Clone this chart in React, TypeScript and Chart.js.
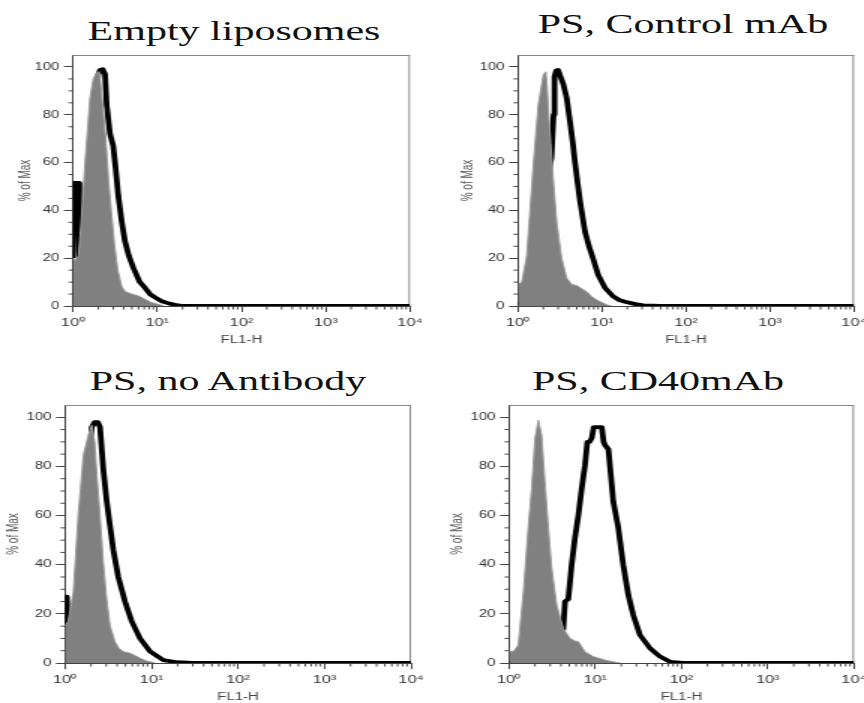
import React, { useEffect, useRef } from 'react';
import { Chart, registerables } from 'chart.js';

Chart.register(...registerables);
Chart.defaults.font.family = "'Liberation Sans', Arial, sans-serif";

// ---- axis ticks ----
const X_TICKS = [1, 10, 100, 1000, 10000];
const X_TICK_LABELS = ['10⁰', '10¹', '10²', '10³', '10⁴'];
const X_MINOR_MULTIPLIERS = [2, 3, 4, 5, 6, 7, 8, 9];
const X_MINOR_DECADES = [1, 10, 100, 1000];
const Y_TICKS = [0, 20, 40, 60, 80, 100];
const Y_MINOR = [5, 10, 15, 25, 30, 35, 45, 50, 55, 65, 70, 75, 85, 90, 95];
const Y_MAX = 105;
const X_TITLE = 'FL1-H';
const Y_TITLE = '% of Max';

const TITLES = ['Empty liposomes', 'PS, Control mAb', 'PS, no Antibody', 'PS, CD40mAb'];

// ---- panel 1: Empty liposomes ----
const P1_GRAY_X = [1.0, 1.06, 1.16, 1.25, 1.39, 1.59, 1.74, 1.9, 2.05, 2.2, 2.45, 2.65, 2.85, 3.1, 3.4, 3.8, 4.2, 5.0, 6.0, 7.0, 8.5, 10, 12];
const P1_GRAY_Y = [20, 19, 21, 35, 60, 87, 95, 97.5, 98, 88, 70, 52, 40, 26, 15, 8, 6, 5, 4.2, 3, 1.5, 0.8, 0];
const P1_BLACK_X = [1.0, 1.03, 1.16, 1.19, 1.4, 1.6, 1.8, 2.0, 2.1, 2.25, 2.4, 2.51, 2.75, 3.0, 3.2, 3.45, 3.8, 4.14, 4.6, 5.2, 6.2, 7.2, 8.2, 9.5, 11.3, 14, 16.2, 20, 40, 100, 1000, 10000];
const P1_BLACK_Y = [20, 51.5, 51.5, 20, 35, 60, 85, 97, 98.7, 99, 97, 84, 72, 67, 58, 46, 35, 27, 21, 16, 10, 7.5, 5, 3.5, 2, 1, 0.5, 0, 0, 0, 0, 0];

// ---- panel 2: PS, Control mAb ----
const P2_GRAY_X = [1.0, 1.11, 1.27, 1.52, 1.74, 2.0, 2.14, 2.22, 2.3, 2.45, 2.63, 2.89, 3.31, 3.8, 4.36, 5.0, 5.6, 6.58, 7.5, 8.65, 10, 11.4, 13];
const P2_GRAY_Y = [9, 10, 21, 59, 84, 96.6, 98, 92, 82, 68, 53, 35, 20, 11.7, 9, 8.6, 7.5, 6, 4, 2.5, 1.5, 0.5, 0];
const P2_BLACK_X = [1.0, 1.3, 1.6, 2.0, 2.3, 2.5, 2.65, 2.72, 2.85, 3.0, 3.2, 3.45, 3.8, 4.16, 4.5, 4.77, 5.1, 5.47, 6.28, 7.0, 7.8, 9.0, 10.9, 13.6, 16, 18.8, 25, 31, 50, 100, 1000, 10000];
const P2_BLACK_Y = [0.5, 3, 10, 35, 55, 62, 80, 96, 98.5, 98.7, 96, 93, 87, 77, 68, 60, 52, 44, 31, 25, 20, 13, 7.5, 4, 2.5, 1.8, 0.8, 0.3, 0, 0, 0, 0];

// ---- panel 3: PS, no Antibody ----
const P3_GRAY_X = [1.0, 1.09, 1.25, 1.42, 1.63, 1.86, 2.04, 2.2, 2.32, 2.54, 2.77, 3.03, 3.31, 3.78, 4.2, 4.72, 5.64, 6.5, 7.36, 8.5, 9.6, 11];
const P3_GRAY_Y = [15, 17, 29, 60, 84.5, 92.7, 96.7, 90, 77.8, 60, 41, 26, 15.4, 8.7, 6, 4.6, 4, 3, 2, 1, 0.5, 0];
const P3_BLACK_X = [1.0, 1.05, 1.08, 1.3, 1.6, 1.85, 2.04, 2.2, 2.4, 2.54, 2.66, 2.77, 3.03, 3.31, 3.62, 4.13, 4.94, 5.9, 7.36, 9.6, 13.7, 19.6, 30, 100, 1000, 10000];
const P3_BLACK_Y = [27, 27, 15, 12, 40, 75, 96, 98, 98, 96, 87, 79, 66, 56, 46, 35, 25, 17, 10, 4.7, 1.2, 0.3, 0, 0, 0, 0];

// ---- panel 4: PS, CD40mAb ----
const P4_GRAY_X = [1.0, 1.07, 1.15, 1.28, 1.47, 1.67, 1.83, 2.0, 2.19, 2.39, 2.61, 2.86, 3.13, 3.57, 4.26, 5.1, 5.8, 6.36, 7.6, 9.49, 13.6, 19.4];
const P4_GRAY_Y = [5, 4.6, 5, 7.3, 29, 55, 71, 91.5, 98.8, 92.7, 73.7, 55, 38.6, 23.6, 14, 10, 9, 8.7, 4.6, 2.6, 1, 0];
const P4_BLACK_X = [1.0, 2.0, 3.0, 3.5, 4.0, 4.26, 4.46, 4.87, 5.33, 5.82, 6.36, 6.96, 7.6, 8.09, 8.6, 9.1, 9.6, 10.4, 11.9, 12.5, 13.0, 14.2, 16.2, 18.5, 21.1, 24.2, 27.6, 33.0, 43.1, 56.3, 73.6, 104, 1000, 10000];
const P4_BLACK_Y = [0, 1, 3, 6, 10, 14, 25, 26, 40, 51, 60, 71, 80.5, 90, 90, 91.5, 96, 96, 96, 90, 88.6, 87, 65.6, 55, 40, 27.6, 19.5, 11.4, 6, 2.6, 0.5, 0, 0, 0];

const GRAY_FILL = '#808080';
const STRETCH = 1.5;

type Layout = {
  left: number; top: number; width: number; height: number;
  plotLeft: number; plotRight: number; plotTop: number; plotBottom: number;
  yTitleX: number; titleX: number; titleTop: number;
};

const LAYOUTS: Layout[] = [
  { left: 0, top: 50, width: 432, height: 300, plotLeft: 73, plotRight: 410, plotTop: 55, plotBottom: 306, yTitleX: 26, titleX: 234, titleTop: 16.5 },
  { left: 432, top: 50, width: 432, height: 300, plotLeft: 518, plotRight: 854, plotTop: 55, plotBottom: 306, yTitleX: 469, titleX: 682.5, titleTop: 10 },
  { left: 0, top: 400, width: 432, height: 303, plotLeft: 65, plotRight: 411, plotTop: 405, plotBottom: 663, yTitleX: 14, titleX: 227.5, titleTop: 367 },
  { left: 432, top: 400, width: 432, height: 303, plotLeft: 509, plotRight: 854, plotTop: 405, plotBottom: 663, yTitleX: 457.5, titleX: 658.3, titleTop: 366.5 },
];

const SERIES = [
  { gx: P1_GRAY_X, gy: P1_GRAY_Y, bx: P1_BLACK_X, by: P1_BLACK_Y },
  { gx: P2_GRAY_X, gy: P2_GRAY_Y, bx: P2_BLACK_X, by: P2_BLACK_Y },
  { gx: P3_GRAY_X, gy: P3_GRAY_Y, bx: P3_BLACK_X, by: P3_BLACK_Y },
  { gx: P4_GRAY_X, gy: P4_GRAY_Y, bx: P4_BLACK_X, by: P4_BLACK_Y },
];

const zip = (xs: number[], ys: number[]) => xs.map((x, i) => ({ x, y: ys[i] }));

const framePlugin = {
  id: 'frameAndMinorTicks',
  beforeDatasetsDraw(chart: any) {
    const { ctx, chartArea: a, scales } = chart;
    ctx.save();
    ctx.strokeStyle = '#8a8a8a';
    ctx.lineWidth = 1;
    ctx.beginPath();
    ctx.moveTo(a.left, a.top + 0.5);
    ctx.lineTo(a.right, a.top + 0.5);
    ctx.moveTo(a.right - 0.5, a.top);
    ctx.lineTo(a.right - 0.5, a.bottom);
    ctx.stroke();
    ctx.strokeStyle = '#444';
    ctx.beginPath();
    for (const d of X_MINOR_DECADES) {
      for (const m of X_MINOR_MULTIPLIERS) {
        const px = scales.x.getPixelForValue(d * m);
        ctx.moveTo(px, a.bottom);
        ctx.lineTo(px, a.bottom + 3.5);
      }
    }
    for (const v of Y_MINOR) {
      const py = scales.y.getPixelForValue(v);
      ctx.moveTo(a.left, py);
      ctx.lineTo(a.left - 3, py);
    }
    ctx.stroke();
    ctx.restore();
  },
};

function Panel({ idx }: { idx: number }) {
  const ref = useRef<HTMLCanvasElement | null>(null);
  const L = LAYOUTS[idx];
  const cw = L.width / STRETCH;
  useEffect(() => {
    if (!ref.current) return;
    const s = SERIES[idx];
    const yAxisW = (L.plotLeft - L.left) / STRETCH;
    const padR = cw - (L.plotRight - L.left) / STRETCH;
    const padT = L.plotTop - L.top;
    const xAxisH = L.height - (L.plotBottom - L.top);
    const xTitleCenter = L.plotBottom + 34 - L.top;
    const xTitlePad = Math.max(0, L.height - 5 - xTitleCenter);
    const yTitlePad = (L.yTitleX - L.left) / STRETCH - 5;
    const chart = new Chart(ref.current, {
      type: 'line',
      data: {
        datasets: [
          {
            data: zip(s.gx, s.gy),
            fill: 'origin',
            backgroundColor: GRAY_FILL,
            borderColor: '#9c9c9c',
            borderWidth: 1,
            pointRadius: 0,
            tension: 0,
          },
          {
            data: zip(s.bx, s.by),
            fill: false,
            borderColor: '#000',
            borderWidth: 3.8,
            pointRadius: 0,
            tension: 0,
            borderJoinStyle: 'round',
          },
        ],
      } as any,
      options: {
        animation: false,
        responsive: true,
        maintainAspectRatio: false,
        events: [],
        layout: { padding: { left: 0, right: padR, top: padT, bottom: 0 } },
        plugins: { legend: { display: false }, tooltip: { enabled: false }, title: { display: false } },
        scales: {
          x: {
            type: 'logarithmic',
            min: 1,
            max: 10000,
            afterBuildTicks: (sc: any) => { sc.ticks = X_TICKS.map((v) => ({ value: v })); },
            afterFit: (sc: any) => { sc.height = xAxisH; sc.paddingLeft = 0; sc.paddingRight = 0; },
            ticks: {
              autoSkip: false,
              maxRotation: 0,
              padding: 4,
              color: '#333',
              font: { size: 11 },
              callback: (_v: any, i: number) => X_TICK_LABELS[i],
            },
            grid: { drawOnChartArea: false, tickLength: 6, color: '#444' },
            border: { color: '#444', width: 1 },
            title: { display: true, text: X_TITLE, color: '#444', font: { size: 10, lineHeight: 1 }, padding: { top: 0, bottom: xTitlePad } },
          },
          y: {
            min: 0,
            max: Y_MAX,
            afterBuildTicks: (sc: any) => { sc.ticks = Y_TICKS.map((v) => ({ value: v })); },
            afterFit: (sc: any) => { sc.width = yAxisW; sc.paddingTop = 0; sc.paddingBottom = 0; },
            ticks: { padding: 3, color: '#333', font: { size: 10 }, callback: (v: any) => String(v) },
            grid: { drawOnChartArea: false, tickLength: 6, color: '#444' },
            border: { color: '#444', width: 1 },
            title: { display: true, text: Y_TITLE, color: '#555', font: { size: 10, lineHeight: 1 }, padding: { top: yTitlePad, bottom: 0 } },
          },
        },
      } as any,
      plugins: [framePlugin],
    });
    return () => chart.destroy();
  }, [idx]);

  return (
    <>
      <div
        style={{
          position: 'absolute', left: L.left, top: L.top, width: cw, height: L.height,
          transform: `scaleX(${STRETCH})`, transformOrigin: '0 0',
        }}
      >
        <canvas ref={ref} />
      </div>
      <div
        style={{
          position: 'absolute', left: L.titleX, top: L.titleTop, whiteSpace: 'nowrap',
          fontFamily: "'Liberation Serif', 'Times New Roman', serif", fontSize: 28, lineHeight: '28px',
          color: '#111', transform: `translateX(-50%) scaleX(${STRETCH})`,
        }}
      >
        {TITLES[idx]}
      </div>
    </>
  );
}

export default function App() {
  return (
    <div style={{ position: 'absolute', left: 0, top: 0, width: 864, height: 703, background: '#fff', overflow: 'hidden' }}>
      {[0, 1, 2, 3].map((i) => <Panel key={i} idx={i} />)}
    </div>
  );
}
